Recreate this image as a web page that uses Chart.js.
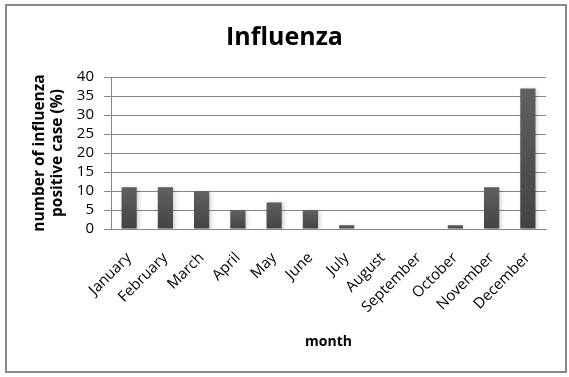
<!DOCTYPE html>
<html>
<head>
<meta charset="utf-8">
<script src="https://cdn.jsdelivr.net/npm/chart.js@4.4.0/dist/chart.umd.min.js"></script>
<style>
  html, body { margin: 0; padding: 0; background: #fff; }
  #wrap { width: 569px; height: 377px; }
</style>
</head>
<body>
<div id="wrap"><canvas id="fluChart" width="569" height="377"></canvas></div>
<script>
// Datele graficului
const months = ['January', 'February', 'March', 'April', 'May', 'June',
                'July', 'August', 'September', 'October', 'November', 'December'];
const positiveCases = [11, 11, 10, 5, 7, 5, 1, 0, 0, 1, 11, 37];
const yTicks = [0, 5, 10, 15, 20, 25, 30, 35, 40];

const gridGray = '#868686';
const fontFamily = "'Open Sans', 'DejaVu Sans', sans-serif";

// Gradient pe fiecare bară (sus mai deschis, jos mai închis)
function barGradient(context) {
    const chart = context.chart;
    const area = chart.chartArea;
    if (!area || context.parsed === undefined) return '#555555';
    const yScale = chart.scales.y;
    const top = yScale.getPixelForValue(context.parsed.y);
    const base = yScale.getPixelForValue(0);
    if (!isFinite(top) || base - top < 1) return '#555555';
    const g = chart.ctx.createLinearGradient(0, top, 0, base);
    g.addColorStop(0, '#616161');
    g.addColorStop(1, '#434343');
    return g;
}

// Chenarul exterior și umbra barelor
const framePlugin = {
    id: 'frame',
    beforeDatasetsDraw(chart) {
        const ctx = chart.ctx;
        ctx.save();
        ctx.shadowColor = 'rgba(0,0,0,0.18)';
        ctx.shadowBlur = 4;
        ctx.shadowOffsetX = 2;
        ctx.shadowOffsetY = 1;
    },
    afterDatasetsDraw(chart) {
        chart.ctx.restore();
    },
    afterDraw(chart) {
        const ctx = chart.ctx;
        ctx.save();
        ctx.strokeStyle = '#8a8a8a';
        ctx.lineWidth = 2;
        ctx.strokeRect(6, 5, 560, 367);
        ctx.restore();
    }
};

const ctxFlu = document.getElementById('fluChart').getContext('2d');

new Chart(ctxFlu, {
    type: 'bar',
    data: {
        labels: months,
        datasets: [{
            label: 'Influenza',
            data: positiveCases,
            backgroundColor: barGradient,
            borderWidth: 0,
            barPercentage: 0.42,
            categoryPercentage: 1.0
        }]
    },
    options: {
        responsive: false,
        animation: false,
        layout: { padding: { left: 23, right: 23, top: 0, bottom: 24 } },
        plugins: {
            legend: { display: false },
            tooltip: { enabled: false },
            title: {
                display: true,
                text: 'Influenza',
                color: '#000',
                font: { family: fontFamily, size: 25, weight: 'bold', lineHeight: 1.2 },
                padding: { top: 23, bottom: 24 }
            }
        },
        scales: {
            x: {
                grid: { display: false, drawTicks: false },
                border: { display: true, color: gridGray, width: 1 },
                ticks: {
                    color: '#000',
                    font: { family: fontFamily, size: 15 },
                    autoSkip: false,
                    maxRotation: 45,
                    minRotation: 45,
                    padding: 20
                },
                title: {
                    display: true,
                    text: 'month',
                    color: '#000',
                    font: { family: fontFamily, size: 14, weight: 'bold', lineHeight: 1.2 },
                    padding: { top: 4, bottom: 3 }
                },
                afterFit(scale) { scale.height = 124; }
            },
            y: {
                min: 0,
                max: 40,
                grid: { color: gridGray, lineWidth: 1, tickLength: 7, drawTicks: true },
                border: { display: true, color: gridGray, width: 1 },
                afterBuildTicks(scale) { scale.ticks = yTicks.map(v => ({ value: v })); },
                ticks: {
                    color: '#000',
                    font: { family: fontFamily, size: 15 },
                    autoSkip: false,
                    stepSize: 5,
                    padding: 10
                },
                title: {
                    display: true,
                    text: ['number of influenza', 'positive case (%)'],
                    color: '#000',
                    font: { family: fontFamily, size: 15.5, weight: 'bold', lineHeight: 1.2 },
                    padding: { top: 7, bottom: 0 }
                },
                afterFit(scale) { scale.width = 88; }
            }
        }
    },
    plugins: [framePlugin]
});
</script>
</body>
</html>
